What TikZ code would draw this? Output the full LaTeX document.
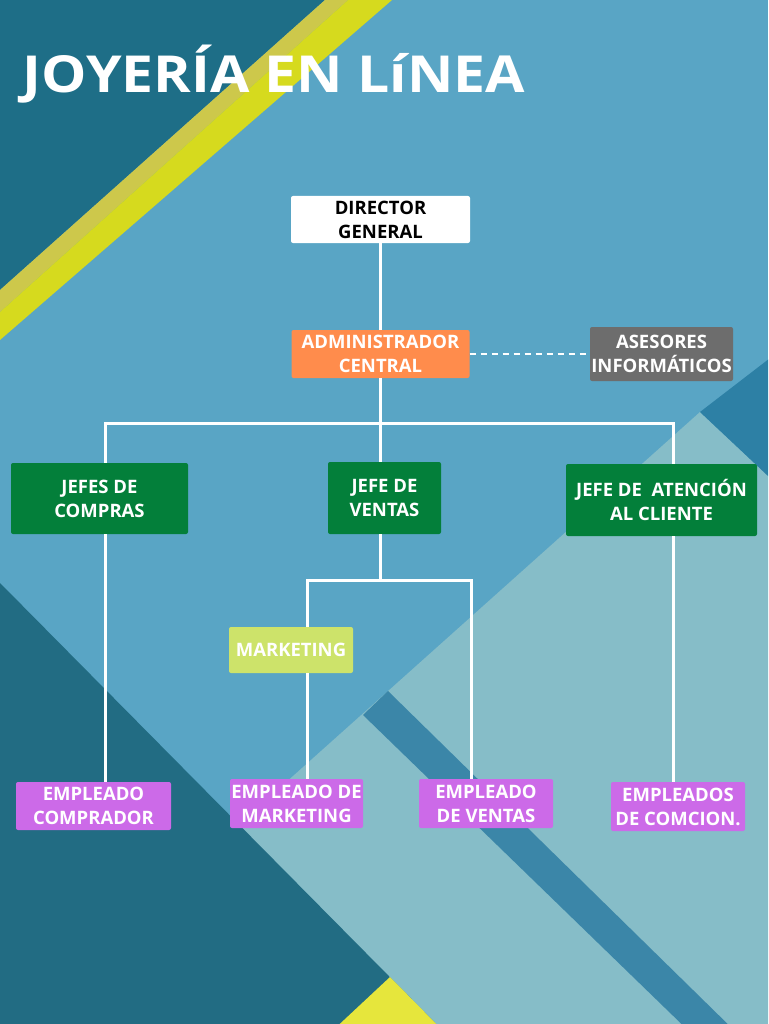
\documentclass[tikz,border=0pt]{standalone}
\usepackage{fontspec}
\setmainfont{Open Sans}
\definecolor{bgmid}{HTML}{59A5C5}
\definecolor{bglight}{HTML}{86BDC8}
\definecolor{bgstripe}{HTML}{3B86A8}
\definecolor{bgdarkblue}{HTML}{2D80A5}
\definecolor{bgteal}{HTML}{1E6E87}
\definecolor{bgteallow}{HTML}{226C83}
\definecolor{bandtan}{HTML}{CDC84B}
\definecolor{bandyel}{HTML}{D6DA1E}
\definecolor{bandlow}{HTML}{E6E63C}
\definecolor{boxorange}{HTML}{FF8C4C}
\definecolor{boxgray}{HTML}{6D6D6D}
\definecolor{boxgreen}{HTML}{037F3A}
\definecolor{boxlime}{HTML}{CDE36A}
\definecolor{boxpurple}{HTML}{CC6AE8}
\begin{document}
\begin{tikzpicture}[x=1pt,y=-1pt,
  box/.style={rounded corners=2pt, inner sep=0pt, align=center,
    font=\fontsize{18.5}{24}\selectfont\bfseries, text=white},
  wire/.style={draw=white, line width=3pt},
  dashwire/.style={draw=white, line width=2pt, dash pattern=on 6pt off 5pt}]
\useasboundingbox (0,0) rectangle (768,1024);
% ---------- background ----------
\begin{scope}
\clip (0,0) rectangle (768,1024);
\fill[bgmid] (0,0) rectangle (768,1024);
\fill[bglight] (700,412) -- (-20,1056) -- (800,1056) -- (800,506) -- cycle;
\fill[bgstripe] (363,715) -- (388,691) -- (744,1040) -- (698,1040) -- cycle;
\fill[bgdarkblue] (700,412) -- (800,335) -- (800,506) -- cycle;
\fill[bgteallow] (0,583) -- (458,1046) -- (0,1046) -- cycle;
\fill[bandlow] (390,977) -- (460,1048) -- (314,1048) -- cycle;
\fill[bgteal] (0,0) -- (325,0) -- (0,290) -- cycle;
\fill[bandtan] (325,0) -- (348,0) -- (0,312) -- (0,290) -- cycle;
\fill[bandyel] (348,0) -- (392,0) -- (0,340) -- (0,312) -- cycle;
\end{scope}
% ---------- title ----------
\node[anchor=base west, text=white, inner sep=0pt,
  font=\fontsize{51}{60}\selectfont\bfseries] (title) at (22,93) {\scalebox{1.12}[1]{JOYERÍA EN LíNEA}};
% ---------- boxes ----------
\node[box, fill=white, text=black, minimum width=179pt, minimum height=47pt] (dir) at (380.5,219.5) {DIRECTOR\\GENERAL};
\node[box, fill=boxorange, minimum width=178pt, minimum height=48pt] (adm) at (380.5,354) {ADMINISTRADOR\\CENTRAL};
\node[box, fill=boxgray, minimum width=143pt, minimum height=54pt] (ase) at (661.5,354) {ASESORES\\INFORMÁTICOS};
\node[box, fill=boxgreen, minimum width=177pt, minimum height=71pt] (jc) at (99.5,498.5) {JEFES DE\\COMPRAS};
\node[box, fill=boxgreen, minimum width=113pt, minimum height=72pt] (jv) at (384.5,498) {JEFE DE\\VENTAS};
\node[box, fill=boxgreen, minimum width=191pt, minimum height=72pt] (ja) at (661.5,500) {JEFE DE\ \ ATENCIÓN\\AL CLIENTE};
\node[box, fill=boxlime, minimum width=124pt, minimum height=46pt] (mk) at (291,650) {MARKETING};
\node[box, fill=boxpurple, minimum width=155pt, minimum height=48pt] (ec) at (93.5,806) {EMPLEADO\\COMPRADOR};
\node[box, fill=boxpurple, minimum width=133pt, minimum height=49pt] (em) at (296.5,803.5) {EMPLEADO DE\\MARKETING};
\node[box, fill=boxpurple, minimum width=134pt, minimum height=49pt] (ev) at (486,803.5) {EMPLEADO\\DE VENTAS};
\node[box, fill=boxpurple, minimum width=134pt, minimum height=49pt] (es) at (678,806.5) {EMPLEADOS\\DE COMCION.};
% ---------- connectors ----------
\coordinate (busL) at (105,423);
\coordinate (busR) at (673,423);
\coordinate (vL) at (307,580);
\coordinate (vR) at (471,580);
\draw[wire] (dir) -- (adm);
\draw[dashwire] (adm) -- (ase);
\draw[wire] (adm.south) -- (jv.north -| adm.south);
\draw[wire] (jc.north -| busL) -- (busL) -- (busR) -- (ja.north -| busR);
\draw[wire] (jc.south -| busL) -- (ec.north -| busL);
\draw[wire] (ja.south -| busR) -- (es.north -| busR);
\draw[wire] (jv.south -| adm.south) -- (adm.south |- vL);
\draw[wire] (mk.north -| vL) -- (vL) -- (vR) -- (ev.north -| vR);
\draw[wire] (mk.south -| vL) -- (em.north -| vL);
\end{tikzpicture}
\end{document}
